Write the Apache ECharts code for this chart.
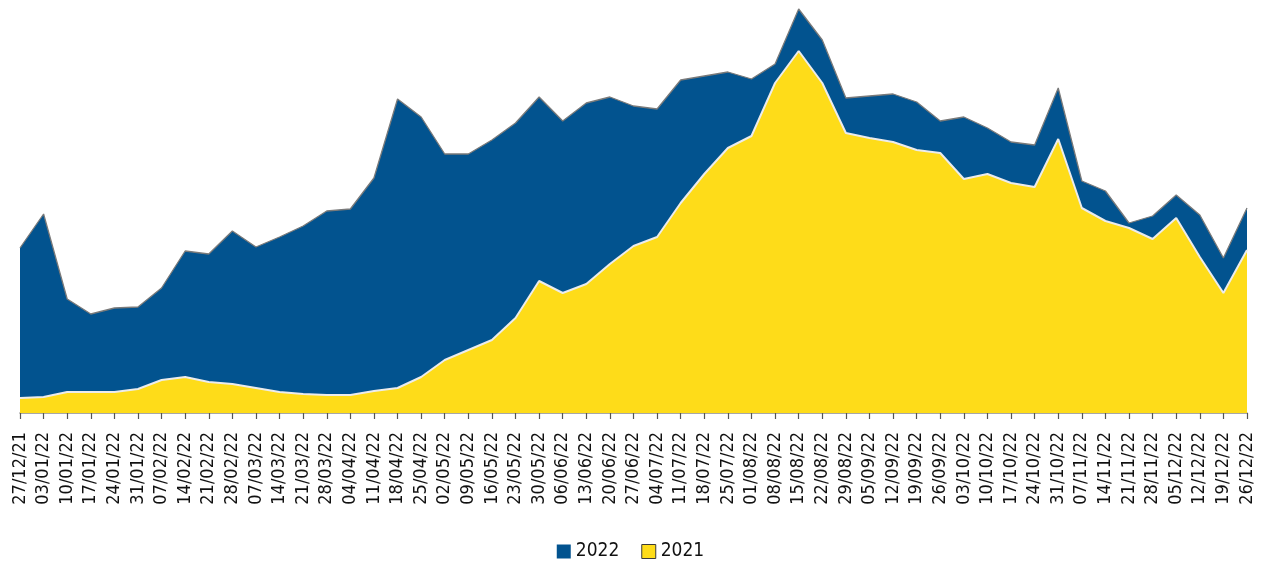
<!DOCTYPE html>
<html>
<head>
<meta charset="utf-8">
<script src="https://cdn.jsdelivr.net/npm/echarts@6/dist/echarts.min.js"></script>
<style>
  html, body { margin: 0; padding: 0; background: #ffffff; }
  #chart { width: 1261px; height: 563px; }
</style>
</head>
<body>
<div id="chart"></div>
<script>
// Weekly dates (Monday of each week)
const weeks = [
  '27/12/21','03/01/22','10/01/22','17/01/22','24/01/22','31/01/22','07/02/22','14/02/22',
  '21/02/22','28/02/22','07/03/22','14/03/22','21/03/22','28/03/22','04/04/22','11/04/22',
  '18/04/22','25/04/22','02/05/22','09/05/22','16/05/22','23/05/22','30/05/22','06/06/22',
  '13/06/22','20/06/22','27/06/22','04/07/22','11/07/22','18/07/22','25/07/22','01/08/22',
  '08/08/22','15/08/22','22/08/22','29/08/22','05/09/22','12/09/22','19/09/22','26/09/22',
  '03/10/22','10/10/22','17/10/22','24/10/22','31/10/22','07/11/22','14/11/22','21/11/22',
  '28/11/22','05/12/22','12/12/22','19/12/22','26/12/22'
];

// Weekly values, 2022
const values2022 = [
  165, 199, 114, 99, 105, 106, 125, 162, 159, 182, 166, 176, 187, 202, 204, 235,
  314, 296, 259, 259, 273, 290, 316, 292, 310, 316, 307, 304, 333, 337, 341, 334,
  349, 404, 373, 315, 317, 319, 311, 292, 296, 285, 271, 268, 325, 232, 222, 190,
  197, 218, 198, 155, 205
];

// Weekly values, 2021
const values2021 = [
  15, 16, 21, 21, 21, 24, 33, 36, 31, 29, 25, 21, 19, 18, 18, 22,
  25, 36, 53, 63, 73, 95, 132, 120, 129, 149, 167, 176, 210, 239, 265, 277,
  330, 362, 330, 280, 275, 271, 263, 260, 234, 239, 230, 226, 274, 205, 192, 185,
  174, 195, 156, 120, 163
];

const seriesNames = ['2022', '2021'];

const BLUE = '#02538f';
const YELLOW = '#fedc19';
const FONT = '"Liberation Sans Narrow", "DejaVu Sans Condensed", "DejaVu Sans", sans-serif';

const chart = echarts.init(document.getElementById('chart'), null, { renderer: 'canvas' });

chart.setOption({
  animation: false,
  backgroundColor: '#ffffff',
  grid: { left: 20, right: 14, top: 3, bottom: 150, containLabel: false },
  legend: {
    top: 537,
    left: 'center',
    itemWidth: 14,
    itemHeight: 14,
    itemGap: 22,
    textStyle: { fontFamily: FONT, fontSize: 19, color: '#111111' },
    data: [
      { name: seriesNames[0], icon: 'rect', itemStyle: { color: BLUE, borderWidth: 0 } },
      { name: seriesNames[1], icon: 'rect', itemStyle: { color: YELLOW, borderColor: '#3a3a3a', borderWidth: 1 } }
    ]
  },
  xAxis: {
    type: 'category',
    data: weeks,
    boundaryGap: false,
    axisLine: { show: true, lineStyle: { color: '#8a8a8a', width: 1.5 } },
    axisTick: { show: true, interval: 0, length: 6, lineStyle: { color: '#555555', width: 1.2 } },
    axisLabel: {
      interval: 0,
      rotate: 90,
      margin: 19,
      fontFamily: FONT,
      fontSize: 18,
      color: '#111111'
    },
    splitLine: { show: false }
  },
  yAxis: {
    type: 'value',
    min: 0,
    max: 410,
    show: false,
    splitLine: { show: false }
  },
  series: [
    {
      name: seriesNames[0],
      type: 'line',
      data: values2022,
      symbol: 'none',
      lineStyle: { color: '#7a7a7a', width: 1.3 },
      itemStyle: { color: BLUE },
      areaStyle: { color: BLUE, opacity: 1 },
      z: 2
    },
    {
      name: seriesNames[1],
      type: 'line',
      data: values2021,
      symbol: 'none',
      lineStyle: { color: '#ececec', width: 2 },
      itemStyle: { color: YELLOW },
      areaStyle: { color: YELLOW, opacity: 1 },
      z: 3
    }
  ]
});
</script>
</body>
</html>
